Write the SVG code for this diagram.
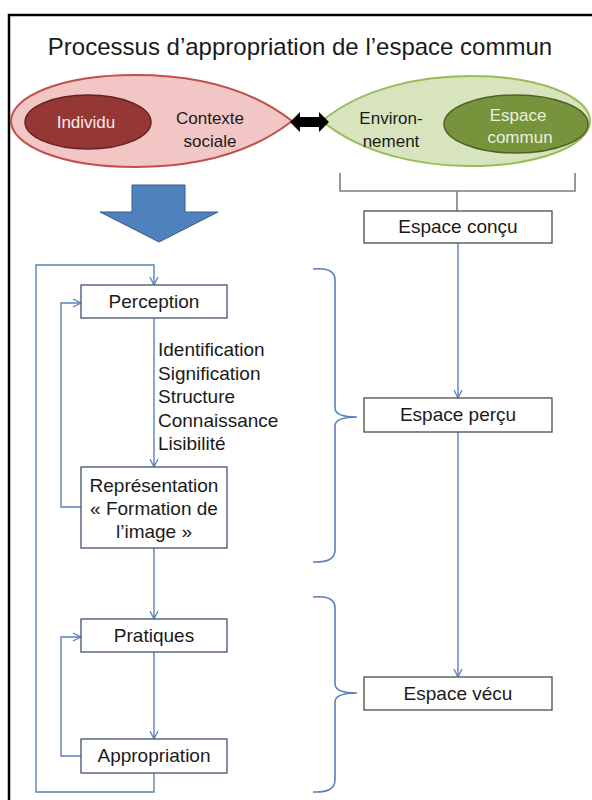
<svg xmlns="http://www.w3.org/2000/svg" width="592" height="800" viewBox="0 0 592 800">
<defs>
<style>
text{font-family:"Liberation Sans",Arial,sans-serif;fill:#1a1a1a}
.t{font-size:19px;text-anchor:middle}
.e{font-size:17px;text-anchor:middle}
.lbox{fill:#fff;stroke:#41536b;stroke-width:1.3}
.rbox{fill:#fff;stroke:#4d4d40;stroke-width:1.3}
.ln{fill:none;stroke:#5a82b8;stroke-width:1.4}
.br{fill:none;stroke:#5a82b8;stroke-width:1.6}
</style>
<marker id="ah" viewBox="0 0 10 10" refX="9" refY="5" markerWidth="10" markerHeight="10" orient="auto" markerUnits="userSpaceOnUse">
<path d="M1,1 L9,5 L1,9" fill="none" stroke="#5a82b8" stroke-width="1.3"/>
</marker>
</defs>
<rect width="592" height="800" fill="#fff"/>
<path d="M9,800 V15 H592" fill="none" stroke="#000" stroke-width="2.5"/>
<text x="300" y="55" style="font-size:24px;text-anchor:middle">Processus d’appropriation de l’espace commun</text>

<g id="contexte">
<path d="M292,121 C250,88 195,75 135,75 C60,75 11,97 11,121 C11,145 60,167 135,167 C195,167 250,154 292,121 Z" fill="#f2c6c5" stroke="#c0504d" stroke-width="2"/>
<text class="e" x="210" y="124">Contexte</text>
<text class="e" x="210" y="147">sociale</text>
</g>
<g id="individu">
<ellipse cx="88" cy="122" rx="63" ry="27" fill="#953735" stroke="#632523" stroke-width="1.5"/>
<text class="e" x="86" y="128" style="fill:#fbe9e9">Individu</text>
</g>
<g id="environnement">
<path d="M322,121 C362,88 420,76 470,76 C540,76 590,97 590,121 C590,145 540,166 470,166 C420,166 362,154 322,121 Z" fill="#d7e4bd" stroke="#9bbb59" stroke-width="2"/>
<text class="e" x="391" y="124">Environ-</text>
<text class="e" x="391" y="147">nement</text>
</g>
<g id="espace-commun">
<ellipse cx="516" cy="124" rx="72" ry="29" fill="#77933c" stroke="#4f6228" stroke-width="1.5"/>
<text class="e" x="518" y="121" style="fill:#e9f1dc">Espace</text>
<text class="e" x="520" y="143" style="fill:#e9f1dc">commun</text>
</g>
<g id="double-arrow">
<polygon points="290,122 300,112 300,117 319,117 319,112 329,122 319,132 319,127 300,127 300,132" fill="#000"/>
</g>
<g id="blue-arrow">
<polygon points="132,185 185,185 185,212 218,212 159,242 100,212 132,212" fill="#4f81bd" stroke="#385d8a" stroke-width="1"/>
</g>

<g id="connectors">
<path d="M340,173 V191 H575 V173 M457,191 V211" fill="none" stroke="#7f7f7f" stroke-width="1.6"/>
<line class="ln" x1="458" y1="243" x2="458" y2="398" marker-end="url(#ah)"/>
<line class="ln" x1="458" y1="432" x2="458" y2="677" marker-end="url(#ah)"/>
<line class="ln" x1="154" y1="318" x2="154" y2="467" marker-end="url(#ah)"/>
<line class="ln" x1="154" y1="548" x2="154" y2="619" marker-end="url(#ah)"/>
<line class="ln" x1="154" y1="652" x2="154" y2="739" marker-end="url(#ah)"/>
<path class="ln" d="M81,507 H61 V303 H81" marker-end="url(#ah)"/>
<path class="ln" d="M81,756 H61 V637 H81" marker-end="url(#ah)"/>
<path class="ln" d="M154,773 V792 H36 V265 H154 V285" marker-end="url(#ah)"/>
<path class="br" d="M313,269 Q335,267 335,280 V408 Q335,417 357,417 Q335,417 335,426 V550 Q335,563 313,562"/>
<path class="br" d="M313,597 Q335,595 335,608 V684 Q335,693 357,693 Q335,693 335,702 V780 Q335,793 313,792"/>
</g>

<g id="espace-concu">
<rect class="rbox" x="364" y="211" width="188" height="32"/>
<text class="t" x="458" y="233">Espace conçu</text>
</g>
<g id="espace-percu">
<rect class="rbox" x="364" y="398" width="188" height="34"/>
<text class="t" x="458" y="421">Espace perçu</text>
</g>
<g id="espace-vecu">
<rect class="rbox" x="364" y="677" width="188" height="33"/>
<text class="t" x="458" y="700">Espace vécu</text>
</g>

<g id="perception">
<rect class="lbox" x="81" y="285" width="146" height="33"/>
<text class="t" x="154" y="308">Perception</text>
</g>
<g id="attributs">
<text x="158" y="356" style="font-size:19px">Identification</text>
<text x="158" y="379.5" style="font-size:19px">Signification</text>
<text x="158" y="403" style="font-size:19px">Structure</text>
<text x="158" y="426.5" style="font-size:19px">Connaissance</text>
<text x="158" y="450" style="font-size:19px">Lisibilité</text>
</g>
<g id="representation">
<rect class="lbox" x="81" y="467" width="146" height="81"/>
<text class="t" x="154" y="492">Représentation</text>
<text class="t" x="154" y="515">« Formation de</text>
<text class="t" x="154" y="538">l’image »</text>
</g>
<g id="pratiques">
<rect class="lbox" x="81" y="619" width="146" height="33"/>
<text class="t" x="154" y="642">Pratiques</text>
</g>
<g id="appropriation">
<rect class="lbox" x="81" y="739" width="146" height="34"/>
<text class="t" x="154" y="762">Appropriation</text>
</g>
</svg>
